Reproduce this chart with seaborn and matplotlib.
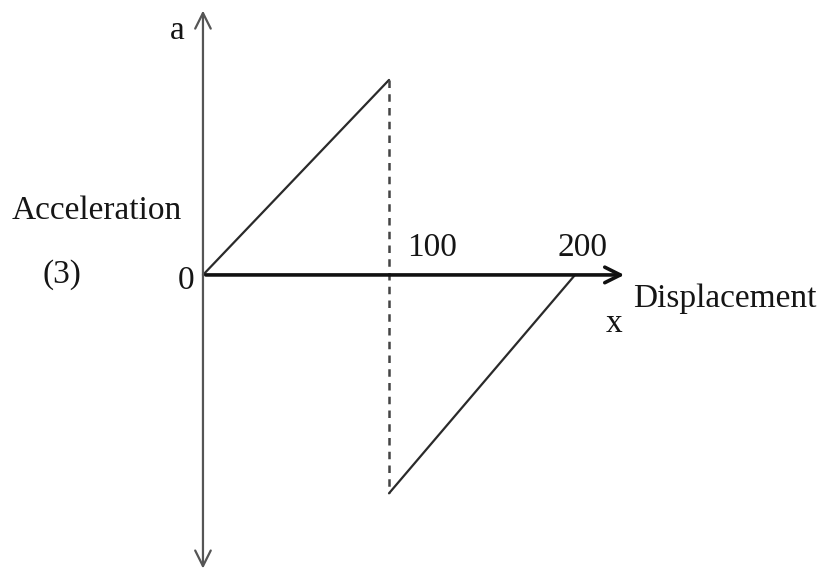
import matplotlib
matplotlib.use('Agg')
import matplotlib.pyplot as plt
import seaborn as sns
import pandas as pd

# Values (x in displacement units, a in arbitrary units)
rise_x = [0, 100]
rise_a = [0.0, 1.0]
fall_x = [100, 200]
fall_a = [-1.12, 0.0]
drop_x = [100, 100]
drop_a = [1.0, -1.12]
tick_values = [100, 200]
tick_labels = ['100', '200']

sns.set_style('white')
plt.rcParams['font.family'] = ['Liberation Serif', 'DejaVu Serif']

fig = plt.figure(figsize=(8.26, 5.76), dpi=100)
ax = fig.add_axes([0, 0, 1, 1])
ax.set_xlim(-109.1, 334.9)
ax.set_ylim(-1.544, 1.41)
ax.axis('off')

rise = pd.DataFrame({'x': rise_x, 'a': rise_a})
fall = pd.DataFrame({'x': fall_x, 'a': fall_a})
sns.lineplot(data=rise, x='x', y='a', ax=ax, color='#2a2a2a', lw=1.6)
sns.lineplot(data=fall, x='x', y='a', ax=ax, color='#2a2a2a', lw=1.6)
# dashed drop line
ax.plot(drop_x, drop_a, color='#444444', lw=1.8, dashes=(3, 2.5))

# axes with arrows
ax.annotate('', xy=(228, 0), xytext=(0, 0),
            arrowprops=dict(arrowstyle='->', color='#111111', lw=2.6, mutation_scale=28))
ax.annotate('', xy=(0, 1.37), xytext=(0, 0),
            arrowprops=dict(arrowstyle='->', color='#555555', lw=1.6, mutation_scale=28, shrinkA=0))
ax.annotate('', xy=(0, -1.52), xytext=(0, 0),
            arrowprops=dict(arrowstyle='->', color='#555555', lw=1.6, mutation_scale=28, shrinkA=0))

txt = dict(fontsize=24, ha='center', va='center', color='#151515')
label_shift = [23, 4]
for v, lab, dx in zip(tick_values, tick_labels, label_shift):
    ax.text(v + dx, 0.14, lab, **txt)
ax.text(-9, -0.03, '0', **txt)
ax.text(-14, 1.25, 'a', **txt)
ax.text(-57, 0.33, 'Acceleration', **txt)
ax.text(-76, 0.0, '(3)', **txt)
ax.text(231, -0.12, 'Displacement', fontsize=24, ha='left', va='center', color='#151515')
ax.text(221, -0.25, 'x', **txt)

plt.savefig('out.png', dpi=100)
